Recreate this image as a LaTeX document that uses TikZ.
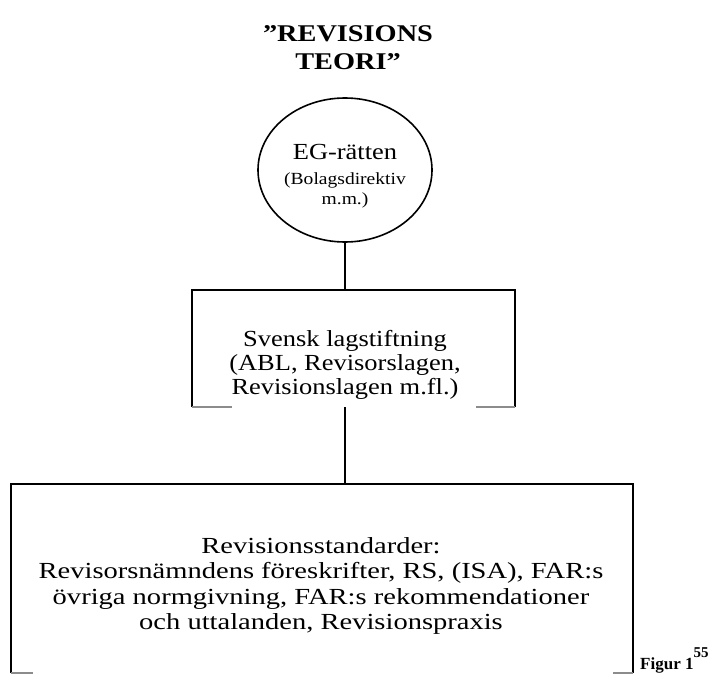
\documentclass[tikz,border=0pt]{standalone}
\usepackage{fontspec}
\setmainfont{Liberation Serif}
\usetikzlibrary{shapes.geometric,calc}
\begin{document}
\begin{tikzpicture}[x=1pt,y=-1pt,
  txt/.style={align=center, inner sep=0pt, transform shape},
  frame/.style={inner sep=0pt, draw=none},
  edge/.style={line width=1.6pt, draw=black},
  grayend/.style={line width=1.6pt, draw=black!45}]
\useasboundingbox (0,0) rectangle (728,674);

% title
\node[txt, xscale=1.18, font=\bfseries\fontsize{24}{28}\selectfont] (title) at (348,48) {”REVISIONS\\TEORI”};

% ellipse
\node[frame, ellipse, edge, minimum width=174pt, minimum height=144pt] (eg) at (345,170) {};
\node[txt, xscale=1.15, font=\fontsize{17}{20}\selectfont] (egtext) at (345,176)
  {\fontsize{23}{24}\selectfont EG-rätten\\[5pt](Bolagsdirektiv\\m.m.)};

% middle box
\node[frame, minimum width=323pt, minimum height=117pt] (law) at (353.5,348.5) {};
\draw[edge] (law.south west) -- (law.north west) -- (law.north east) -- (law.south east);
\draw[grayend] (law.south west) -- ++(40,0);
\draw[grayend] (law.south east) -- ++(-39,0);
\node[txt, xscale=1.15, font=\fontsize{23}{24.2}\selectfont] (lawtext) at (345,365) {Svensk lagstiftning\\(ABL, Revisorslagen,\\Revisionslagen m.fl.)};

% bottom box
\node[frame, minimum width=622pt, minimum height=189pt] (std) at (322,578.5) {};
\draw[edge] (std.south west) -- (std.north west) -- (std.north east) -- (std.south east);
\draw[grayend] (std.south west) -- ++(22,0);
\draw[grayend] (std.south east) -- ++(-20,0);
\node[txt, xscale=1.24, font=\fontsize{23}{25.3}\selectfont] (stdtext) at (321,586) {Revisionsstandarder:\\Revisorsnämndens föreskrifter, RS, (ISA), FAR:s\\övriga normgivning, FAR:s rekommendationer\\och uttalanden, Revisionspraxis};

% connectors
\draw[edge] (eg.south) -- (eg.south |- law.north);
\draw[edge] (eg.south |- law.south) -- (eg.south |- std.north);

% figure label
\node[anchor=base west, inner sep=0pt, font=\bfseries\fontsize{17}{20}\selectfont] (fig) at (640,669)
  {Figur 1\raisebox{0.7em}{\fontsize{15}{15}\selectfont 55}};
\end{tikzpicture}
\end{document}
